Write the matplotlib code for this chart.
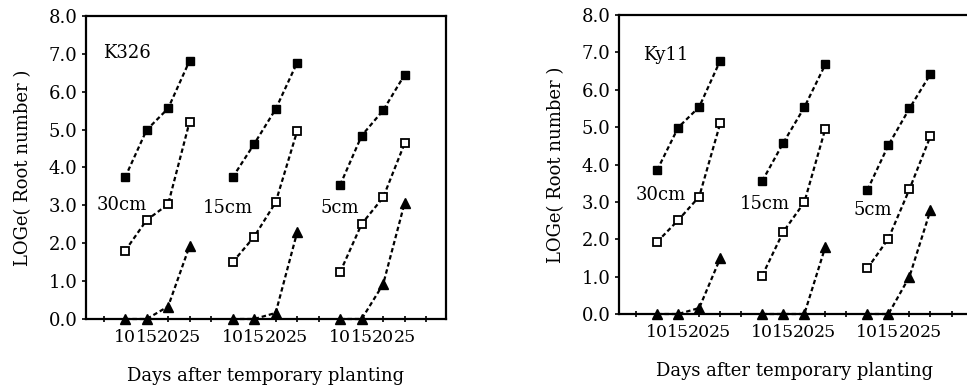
import numpy as np
import matplotlib
matplotlib.use("Agg")
import matplotlib.pyplot as plt

plt.rcParams['font.family'] = ['DejaVu Serif']

# days after temporary planting, and the x offset of each depth group
days = [10, 15, 20, 25]
depths = ['30cm', '15cm', '5cm']
group_offset = [0, 25, 50]

# LOGe(root number), K326
k326_filled = [[3.74, 4.99, 5.56, 6.82], [3.74, 4.62, 5.54, 6.77], [3.54, 4.84, 5.51, 6.45]]
k326_open = [[1.80, 2.61, 3.03, 5.21], [1.50, 2.17, 3.08, 4.96], [1.24, 2.51, 3.21, 4.64]]
k326_tri = [[0.0, 0.0, 0.33, 1.93], [0.0, 0.0, 0.16, 2.29], [0.0, 0.0, 0.92, 3.07]]

# LOGe(root number), Ky11
ky11_filled = [[3.85, 4.99, 5.54, 6.78], [3.56, 4.58, 5.53, 6.68], [3.32, 4.52, 5.50, 6.42]]
ky11_open = [[1.93, 2.51, 3.14, 5.10], [1.03, 2.20, 2.99, 4.96], [1.22, 2.02, 3.34, 4.76]]
ky11_tri = [[0.0, 0.0, 0.16, 1.49], [0.0, 0.0, 0.0, 1.80], [0.0, 0.0, 1.00, 2.78]]

fig = plt.figure(figsize=(9.67, 3.87), dpi=100)
ax1 = fig.add_axes([0.0889, 0.1757, 0.3723, 0.783])
ax2 = fig.add_axes([0.640, 0.1886, 0.364, 0.7726])

line_kw = dict(color='black', linestyle=(0, (2, 1.3)), linewidth=1.6, clip_on=False)


def draw_panel(ax, filled, opened, tri, name, name_pos, depth_pos):
    for g in range(3):
        xs = [d + group_offset[g] for d in days]
        ax.plot(xs, filled[g], marker='s', markersize=6, markerfacecolor='black',
                markeredgecolor='black', **line_kw)
        ax.plot(xs, opened[g], marker='s', markersize=5.5, markerfacecolor='white',
                markeredgecolor='black', markeredgewidth=1.3, **line_kw)
        ax.plot(xs, tri[g], marker='^', markersize=7, markerfacecolor='black',
                markeredgecolor='black', **line_kw)
        ax.text(depth_pos[g][0], depth_pos[g][1], depths[g], fontsize=13,
                ha='left', va='center')
    ax.text(name_pos[0], name_pos[1], name, fontsize=13, ha='left', va='center')

    ax.set_xlim(0.9, 84.6)
    ax.set_ylim(0, 8)
    ax.set_yticks(np.arange(0, 9, 1))
    ax.set_yticklabels(['%.1f' % v for v in range(9)])
    xt = [d + o for o in group_offset for d in days]
    ax.set_xticks(xt)
    ax.set_xticklabels([str(d) for o in group_offset for d in days])
    ax.set_xticks(np.arange(5, 85, 5), minor=True)
    ax.tick_params(axis='x', which='both', direction='inout', length=4, width=1.2,
                   labelsize=12.5, pad=5)
    ax.tick_params(axis='y', direction='out', length=3, width=1.2, labelsize=13, pad=3)
    for s in ax.spines.values():
        s.set_linewidth(1.6)
    ax.set_ylabel('LOGe( Root number )', fontsize=13, labelpad=12)
    ax.set_xlabel('Days after temporary planting', fontsize=13, labelpad=15)


draw_panel(ax1, k326_filled, k326_open, k326_tri, 'K326', (4.85, 7.03),
           [(3.46, 3.01), (28.1, 2.93), (55.5, 2.93)])
draw_panel(ax2, ky11_filled, ky11_open, ky11_tri, 'Ky11', (6.6, 6.94),
           [(4.9, 3.18), (29.6, 2.94), (56.7, 2.78)])

fig.savefig('out.png', dpi=100)
